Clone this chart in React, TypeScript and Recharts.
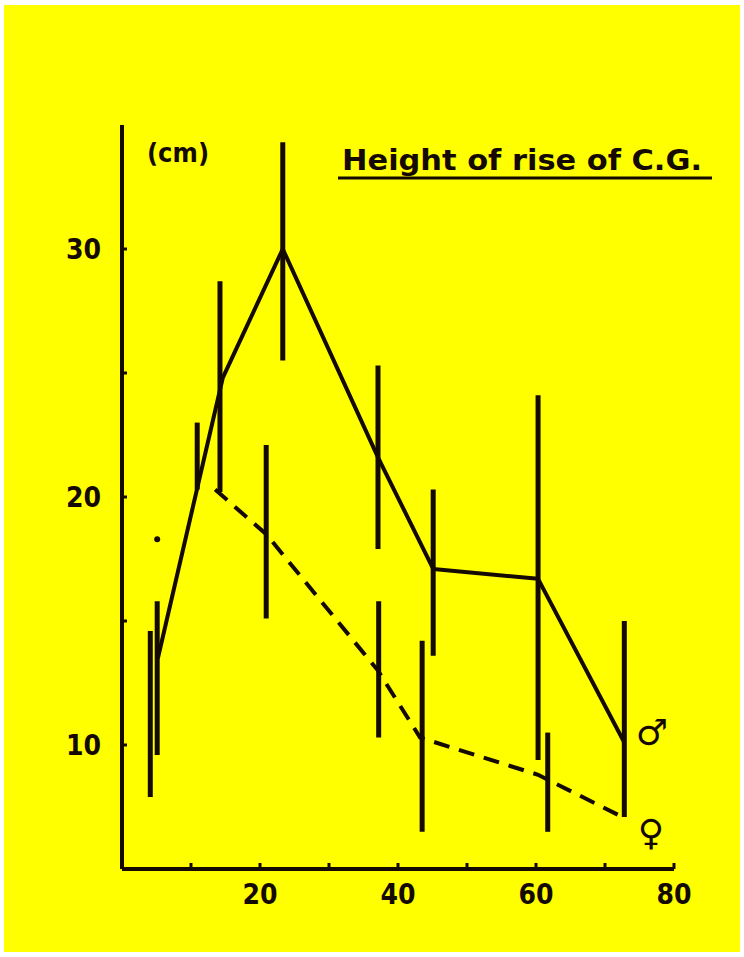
import { Line, LineChart, ReferenceLine, XAxis, YAxis } from "recharts";

const INK = "#140a02";
const YELLOW = "#ffff00";
const LABEL_FONT = "'Liberation Sans Narrow', 'DejaVu Sans Condensed', sans-serif";

// age (years) vs height of rise of C.G. (cm)
const maleAge = [5.2, 14.6, 23.3, 37.1, 45.1, 60.3, 72.8];
const maleRise = [13.5, 24.8, 30.0, 21.6, 17.1, 16.7, 10.1];

const femaleAge = [13.5, 20.9, 37.1, 43.2, 60.3, 72.5];
const femaleRise = [20.3, 18.5, 13.0, 10.3, 8.8, 7.1];

// lone female point at the youngest age, not joined to the dashed line
const femaleFirstAge = [5.1];
const femaleFirstRise = [18.3];

// vertical range bars
const maleBarAge = [5.1, 14.2, 23.3, 37.1, 45.1, 60.3, 72.8];
const maleBarLow = [9.6, 20.2, 25.5, 17.9, 13.6, 9.4, 7.1];
const maleBarHigh = [15.8, 28.7, 34.3, 25.3, 20.3, 24.1, 15.0];

const femaleBarAge = [4.1, 10.9, 20.9, 37.2, 43.5, 61.7];
const femaleBarLow = [7.9, 20.3, 15.1, 10.3, 6.5, 6.5];
const femaleBarHigh = [14.6, 23.0, 22.1, 15.8, 14.2, 10.5];

const xTicks = [10, 20, 30, 40, 50, 60, 70, 80];
const xTickLabels = ["", "20", "", "40", "", "60", "", "80"];
const yTicks = [10, 15, 20, 25, 30];
const yTickLabels = ["10", "", "20", "", "30"];

const maleData = maleAge.map((age, i) => ({ age, rise: maleRise[i] }));
const femaleData = femaleAge.map((age, i) => ({ age, rise: femaleRise[i] }));
const femaleFirst = femaleFirstAge.map((age, i) => ({ age, rise: femaleFirstRise[i] }));

const bars = [
  ...maleBarAge.map((age, i) => ({ age, low: maleBarLow[i], high: maleBarHigh[i] })),
  ...femaleBarAge.map((age, i) => ({ age, low: femaleBarLow[i], high: femaleBarHigh[i] })),
];

export default function App() {
  return (
    <div
      style={{
        position: "absolute",
        top: 0,
        left: 0,
        width: 744,
        height: 957,
        background: "#ffffff",
      }}
    >
      <div
        style={{
          position: "absolute",
          left: 4,
          top: 5,
          width: 736,
          height: 947,
          background: YELLOW,
        }}
      />
      <div style={{ position: "absolute", left: 0, top: 0 }}>
        <LineChart
          width={744}
          height={957}
          margin={{ top: 125, right: 70, left: 0, bottom: 48 }}
        >
          <XAxis
            type="number"
            dataKey="age"
            domain={[0, 80]}
            ticks={xTicks}
            tickFormatter={(_v, i) => xTickLabels[i]}
            height={40}
            axisLine={{ stroke: INK, strokeWidth: 4 }}
            tickLine={{ stroke: INK, strokeWidth: 3 }}
            tickSize={-6}
            tickMargin={21}
            tick={{
              fill: INK,
              fontSize: 28,
              fontWeight: 700,
              fontFamily: LABEL_FONT,
            }}
          />
          <YAxis
            type="number"
            dataKey="rise"
            domain={[5, 35]}
            ticks={yTicks}
            tickFormatter={(_v, i) => yTickLabels[i]}
            width={122}
            axisLine={{ stroke: INK, strokeWidth: 4 }}
            tickLine={{ stroke: INK, strokeWidth: 3 }}
            tickSize={-5}
            tickMargin={26}
            tick={{
              fill: INK,
              fontSize: 28,
              fontWeight: 700,
              fontFamily: LABEL_FONT,
            }}
          />
          {bars.map((b, i) => (
            <ReferenceLine
              key={i}
              segment={[
                { x: b.age, y: b.low },
                { x: b.age, y: b.high },
              ]}
              stroke={INK}
              strokeWidth={5}
            />
          ))}
          <Line
            data={maleData}
            dataKey="rise"
            stroke={INK}
            strokeWidth={4}
            strokeLinejoin="round"
            dot={false}
            isAnimationActive={false}
          />
          <Line
            data={femaleData}
            dataKey="rise"
            stroke={INK}
            strokeWidth={4}
            strokeDasharray="16 10"
            dot={false}
            isAnimationActive={false}
          />
          <Line
            data={femaleFirst}
            dataKey="rise"
            stroke="none"
            dot={{ r: 3, fill: INK, stroke: "none" }}
            isAnimationActive={false}
          />
        </LineChart>
      </div>
      <svg
        width={744}
        height={957}
        style={{ position: "absolute", left: 0, top: 0, pointerEvents: "none" }}
      >
        <text
          x={147}
          y={162}
          fill={INK}
          fontSize={26}
          fontWeight={700}
          fontFamily={LABEL_FONT}
          textLength={62}
          lengthAdjust="spacingAndGlyphs"
        >
          (cm)
        </text>
        <text
          x={342}
          y={170}
          fill={INK}
          fontSize={29}
          fontWeight={700}
          fontFamily={LABEL_FONT}
          textLength={360}
          lengthAdjust="spacingAndGlyphs"
        >
          Height of rise of C.G.
        </text>
        <line x1={338} y1={178} x2={712} y2={178} stroke={INK} strokeWidth={3} />
        <text
          x={652}
          y={745}
          fill={INK}
          fontSize={36}
          fontWeight={700}
          fontFamily="'DejaVu Sans', sans-serif"
          textAnchor="middle"
        >
          ♂
        </text>
        <text
          x={651}
          y={845}
          fill={INK}
          fontSize={36}
          fontWeight={700}
          fontFamily="'DejaVu Sans', sans-serif"
          textAnchor="middle"
        >
          ♀
        </text>
      </svg>
    </div>
  );
}
